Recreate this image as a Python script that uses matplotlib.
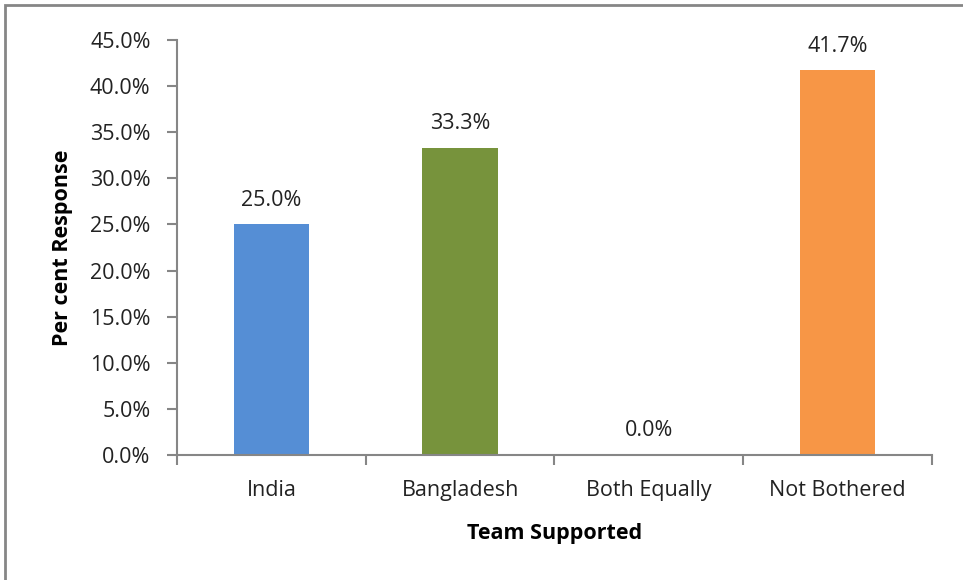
import matplotlib.pyplot as plt
from matplotlib.patches import Rectangle

teams = ['India', 'Bangladesh', 'Both Equally', 'Not Bothered']
percent = [25.0, 33.3, 0.0, 41.7]
colors = ['#558ED5', '#77933C', '#4F81BD', '#F79646']

plt.rcParams['font.family'] = ['Open Sans', 'DejaVu Sans']
fs = 15.5

fig = plt.figure(figsize=(9.63, 5.8), dpi=100)
ax = fig.add_axes([0.1838, 0.2155, 0.7840, 0.7155])

x = range(len(teams))
ax.bar(x, percent, width=0.4, color=colors)
for i, v in enumerate(percent):
    ax.text(i, v + 1.5, '{0:.1f}%'.format(v), ha='center', va='bottom',
            fontsize=fs, color='#222222')

ax.set_xlim(-0.5, len(teams) - 0.5)
ax.set_ylim(0, 45)
ax.set_yticks([i * 5 for i in range(10)])
ax.set_yticklabels(['{0:.1f}%'.format(i * 5.0) for i in range(10)])
ax.set_xticks(list(x))
ax.set_xticklabels(teams)
ax.set_xticks([i - 0.5 for i in range(len(teams) + 1)], minor=True)

ax.tick_params(axis='x', which='major', length=0, pad=18, labelsize=fs, labelcolor='#222222')
ax.tick_params(axis='x', which='minor', length=7, width=1.5, color='#868686', direction='out')
ax.tick_params(axis='y', length=7, width=1.5, color='#868686', labelsize=fs,
               labelcolor='#222222', pad=12)

for s in ['top', 'right']:
    ax.spines[s].set_visible(False)
for s in ['left', 'bottom']:
    ax.spines[s].set_color('#868686')
    ax.spines[s].set_linewidth(1.5)

ax.set_xlabel('Team Supported', fontsize=fs, fontweight='bold', labelpad=16)
ax.set_ylabel('Per cent Response', fontsize=fs, fontweight='bold', labelpad=12)

# chart area border
fig.patches.append(Rectangle((5 / 963, -0.1), 1.2, 1 - 5 / 580 + 0.1, transform=fig.transFigure,
                             fill=False, edgecolor='#868686', linewidth=2))

fig.savefig('out.png', dpi=100)
